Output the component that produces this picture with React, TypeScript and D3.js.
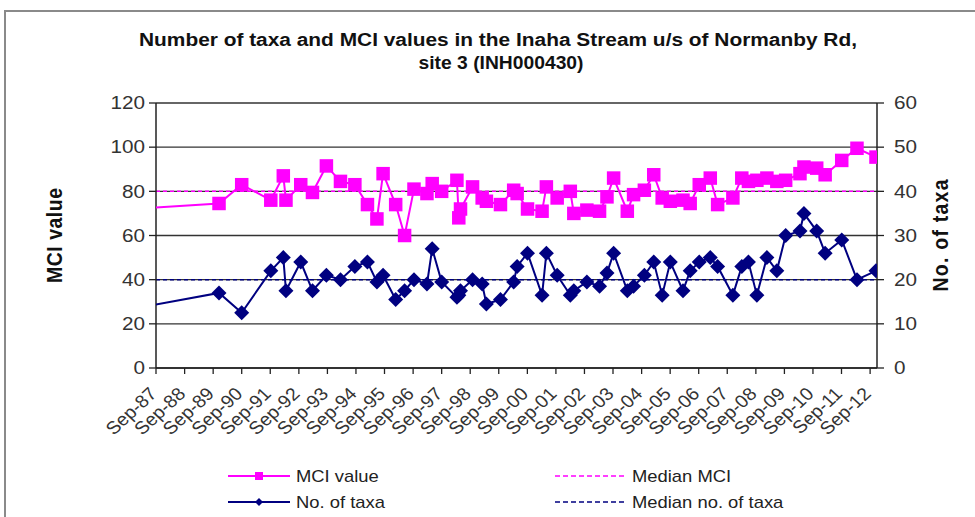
import React from "react";
import * as d3 from "d3";

// ---- Data ----
const sampleDates = [
  "1985-09-01", "1989-11-15", "1990-09-01", "1991-09-08", "1992-02-15", "1992-03-20",
  "1992-09-25", "1993-02-22", "1993-08-19", "1994-02-15", "1994-08-18", "1995-01-26",
  "1995-05-27", "1995-08-14", "1996-01-22", "1996-05-15", "1996-09-12", "1997-02-25",
  "1997-05-03", "1997-09-01", "1998-03-15", "1998-04-08", "1998-04-30", "1998-10-01",
  "1999-02-01", "1999-03-27", "1999-09-23", "2000-03-10", "2000-04-23", "2000-09-03",
  "2001-03-08", "2001-05-02", "2001-09-17", "2002-03-04", "2002-04-18", "2002-10-02",
  "2003-03-13", "2003-06-16", "2003-09-09", "2004-03-02", "2004-05-21", "2004-10-06",
  "2005-02-03", "2005-05-22", "2005-09-03", "2006-02-12", "2006-05-15", "2006-09-08",
  "2007-01-27", "2007-05-01", "2007-11-12", "2008-03-05", "2008-05-29", "2008-09-14",
  "2009-01-20", "2009-05-27", "2009-09-17", "2010-03-19", "2010-05-09", "2010-10-19",
  "2011-02-04", "2011-09-04", "2012-03-17", "2012-11-15",
];

const mciValues = [
  71, 74.5, 83, 76, 87, 76,
  83, 79.5, 91.5, 84.5, 83, 74,
  67.5, 88, 74, 60, 81, 79,
  83.5, 80, 85, 68, 72, 82,
  77, 75.5, 74, 80.5, 79, 72,
  71, 82, 77, 80, 70, 71.5,
  71, 77.5, 86, 71, 78.5, 80.5,
  87.5, 77, 75.5, 76, 74.5, 83,
  86, 74, 77, 86, 84.5, 85,
  86, 84.5, 85, 88, 91, 90.5,
  87.5, 94, 99.5, 95.5,
];

const taxaValues = [
  12, 17, 12.5, 22, 25, 17.5,
  24, 17.5, 21, 20, 23, 24,
  19.5, 21, 15.5, 17.5, 20, 19,
  27, 19.5, 16, 16.5, 17.5, 20,
  19, 14.5, 15.5, 19.5, 23, 26,
  16.5, 26, 21, 16.5, 17.5, 19.5,
  18.5, 21.5, 26, 17.5, 18.5, 21,
  24, 16.5, 24, 17.5, 22, 24,
  25, 23, 16.5, 23, 24, 16.5,
  25, 22, 30, 31, 35, 31,
  26, 29, 20, 22,
];

const medianMCI = 80;
const medianTaxa = 20;

const leftTicks = [0, 20, 40, 60, 80, 100, 120];
const rightTicks = [0, 10, 20, 30, 40, 50, 60];
const axisStart = "1987-09-01";
const axisEnd = "2012-11-28";

const titleLines = [
  "Number of taxa and MCI values in the Inaha Stream u/s of Normanby Rd,",
  "site 3 (INH000430)",
];
const legendLabels = ["MCI value", "Median MCI", "No. of taxa", "Median no. of taxa"];

// ---- Layout ----
const W = 975;
const H = 517;
const M = { left: 156, right: 877, top: 103, bottom: 368 };
const FONT = "'Liberation Sans', Arial, sans-serif";
const PINK = "#FF00FF";
const NAVY = "#000080";
const SX = 1.15; // horizontal stretch of the source picture's text

export default function App() {
  const parse = d3.timeParse("%Y-%m-%d");
  const dates = sampleDates.map((s) => parse(s) as Date);
  const x = d3
    .scaleTime()
    .domain([parse(axisStart) as Date, parse(axisEnd) as Date])
    .range([M.left, M.right]);
  const yL = d3.scaleLinear().domain([0, 120]).range([M.bottom, M.top]);
  const yR = d3.scaleLinear().domain([0, 60]).range([M.bottom, M.top]);

  const xTicks = d3.timeMonth.range(parse(axisStart) as Date, parse(axisEnd) as Date, 12);
  const fmt = d3.timeFormat("%b-%y");

  const mciPts = dates.map((d, i) => [x(d), yL(mciValues[i])] as [number, number]);
  const taxaPts = dates.map((d, i) => [x(d), yR(taxaValues[i])] as [number, number]);
  const line = d3.line();

  const sq = 13.5;
  const dm = 7.5;
  const diamond = (cx: number, cy: number, r: number) =>
    `M${cx},${cy - r}L${cx + r},${cy}L${cx},${cy + r}L${cx - r},${cy}Z`;

  const tickFont = 18;

  return (
    <svg
      width={W}
      height={H}
      style={{ position: "absolute", left: 0, top: 0, background: "#fff" }}
      fontFamily={FONT}
    >
      <defs>
        <clipPath id="plotclip">
          <rect x={M.left} y={M.top - 10} width={M.right - M.left} height={M.bottom - M.top + 20} />
        </clipPath>
      </defs>
      <rect x={0} y={0} width={W} height={H} fill="#fff" />
      {/* chart frame */}
      <rect x={5} y={11} width={W + 20} height={H + 20} fill="none" stroke="#8a8a8a" strokeWidth={2} />

      {/* title */}
      <text
        x={498}
        y={46}
        textAnchor="middle"
        fontSize={18}
        fontWeight="bold"
        fill="#111"
        textLength={718}
        lengthAdjust="spacingAndGlyphs"
      >
        {titleLines[0]}
      </text>
      <text
        x={501}
        y={69}
        textAnchor="middle"
        fontSize={18}
        fontWeight="bold"
        fill="#111"
        textLength={165}
        lengthAdjust="spacingAndGlyphs"
      >
        {titleLines[1]}
      </text>

      {/* gridlines */}
      {leftTicks.map((v) => (
        <line key={v} x1={M.left} x2={M.right} y1={yL(v)} y2={yL(v)} stroke="#333" strokeWidth={1.4} />
      ))}

      {/* median lines */}
      <line
        x1={M.left}
        x2={M.right}
        y1={yL(medianMCI)}
        y2={yL(medianMCI)}
        stroke={PINK}
        strokeWidth={1.5}
        strokeDasharray="4,3"
      />
      <line
        x1={M.left}
        x2={M.right}
        y1={yR(medianTaxa)}
        y2={yR(medianTaxa)}
        stroke={NAVY}
        strokeWidth={1.5}
        strokeDasharray="4,3"
      />

      {/* axes */}
      <line x1={M.left} x2={M.left} y1={M.top} y2={M.bottom} stroke="#222" strokeWidth={1.5} />
      <line x1={M.right} x2={M.right} y1={M.top} y2={M.bottom} stroke="#222" strokeWidth={1.5} />
      <line x1={M.left} x2={M.right} y1={M.bottom} y2={M.bottom} stroke="#222" strokeWidth={1.5} />
      {leftTicks.map((v) => (
        <g key={v}>
          <line x1={M.left - 7} x2={M.left} y1={yL(v)} y2={yL(v)} stroke="#222" strokeWidth={1.3} />
          <text
            transform={`translate(${M.left - 11},${yL(v)}) scale(${SX},1)`}
            dy="0.35em"
            textAnchor="end"
            fontSize={tickFont}
            fill="#333"
          >
            {v}
          </text>
        </g>
      ))}
      {rightTicks.map((v) => (
        <g key={v}>
          <line x1={M.right} x2={M.right + 7} y1={yR(v)} y2={yR(v)} stroke="#222" strokeWidth={1.3} />
          <text
            transform={`translate(${M.right + 17},${yR(v)}) scale(${SX},1)`}
            dy="0.35em"
            textAnchor="start"
            fontSize={tickFont}
            fill="#333"
          >
            {v}
          </text>
        </g>
      ))}
      {xTicks.map((d, i) => (
        <g key={i}>
          <line x1={x(d)} x2={x(d)} y1={M.bottom} y2={M.bottom + 6} stroke="#222" strokeWidth={1.3} />
          <text
            transform={`translate(${x(d) + 2},${M.bottom + 27}) scale(1.08,1) rotate(-45)`}
            textAnchor="end"
            fontSize={tickFont}
            fill="#333"
          >
            {fmt(d)}
          </text>
        </g>
      ))}

      {/* axis titles */}
      <text
        transform={`translate(62,${(M.top + M.bottom) / 2}) scale(${SX},1) rotate(-90)`}
        textAnchor="middle"
        fontSize={19.5}
        fontWeight="bold"
        fill="#111"
        textLength={95}
        lengthAdjust="spacing"
      >
        MCI value
      </text>
      <text
        transform={`translate(948,${(M.top + M.bottom) / 2}) scale(${SX},1) rotate(-90)`}
        textAnchor="middle"
        fontSize={19.5}
        fontWeight="bold"
        fill="#111"
        textLength={112}
        lengthAdjust="spacing"
      >
        No. of taxa
      </text>

      {/* series */}
      <g clipPath="url(#plotclip)">
        <path d={line(mciPts) || ""} fill="none" stroke={PINK} strokeWidth={2} />
        {mciPts.map(([cx, cy], i) => (
          <rect key={i} x={cx - sq / 2} y={cy - sq / 2} width={sq} height={sq} fill={PINK} />
        ))}
        <path d={line(taxaPts) || ""} fill="none" stroke={NAVY} strokeWidth={2} />
        {taxaPts.map(([cx, cy], i) => (
          <path key={i} d={diamond(cx, cy, dm)} fill={NAVY} />
        ))}
      </g>

      {/* legend */}
      <g fontSize={16} fill="#222">
        <line x1={228} x2={290} y1={476} y2={476} stroke={PINK} strokeWidth={2} />
        <rect x={255} y={472} width={8} height={8} fill={PINK} />
        <text transform={`translate(296,476) scale(${SX},1)`} dy="0.35em">{legendLabels[0]}</text>
        <line x1={555} x2={625} y1={476} y2={476} stroke={PINK} strokeWidth={1.5} strokeDasharray="5,3" />
        <text transform={`translate(632,476) scale(${SX},1)`} dy="0.35em">{legendLabels[1]}</text>
        <line x1={228} x2={290} y1={502} y2={502} stroke={NAVY} strokeWidth={2} />
        <path d={diamond(259, 502, 4)} fill={NAVY} />
        <text transform={`translate(296,502) scale(${SX},1)`} dy="0.35em">{legendLabels[2]}</text>
        <line x1={555} x2={625} y1={502} y2={502} stroke={NAVY} strokeWidth={1.5} strokeDasharray="5,3" />
        <text transform={`translate(632,502) scale(${SX},1)`} dy="0.35em">{legendLabels[3]}</text>
      </g>
    </svg>
  );
}
